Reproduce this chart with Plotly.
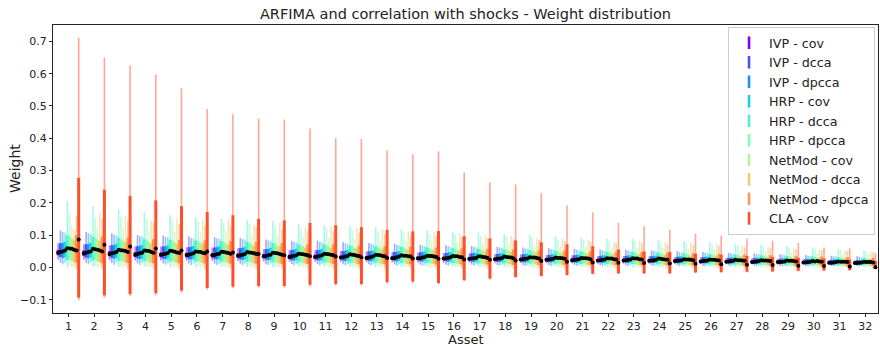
import numpy as np
import plotly.graph_objects as go

assets = list(range(1, 33))
methods = ["IVP - cov", "IVP - dcca", "IVP - dpcca", "HRP - cov", "HRP - dcca",
           "HRP - dpcca", "NetMod - cov", "NetMod - dcca", "NetMod - dpcca", "CLA - cov"]
colors = [(128, 0, 255), (77, 79, 252), (26, 150, 242), (26, 206, 227), (77, 243, 206),
          (128, 255, 180), (179, 243, 150), (230, 206, 116), (255, 150, 79), (255, 79, 40)]

# ---- IVP - cov
ivp_cov_low = [.025,.024,.023,.022,.022,.021,.021,.020,.019,.018,.018,.017,.017,.016,.016,.015,.015,.014,.014,.013,.013,.012,.012,.012,.011,.011,.010,.010,.009,.009,.008,.008]
ivp_cov_q1 = [.038,.036,.035,.033,.032,.032,.031,.030,.029,.027,.027,.026,.025,.024,.023,.023,.022,.021,.020,.020,.019,.018,.018,.017,.017,.016,.015,.014,.014,.013,.012,.011]
ivp_cov_med = [.046,.044,.042,.040,.040,.039,.038,.037,.035,.033,.033,.031,.030,.029,.029,.028,.027,.026,.025,.024,.023,.022,.022,.021,.020,.019,.018,.017,.017,.016,.015,.014]
ivp_cov_q3 = [.055,.053,.051,.048,.047,.046,.045,.044,.042,.040,.040,.037,.036,.035,.034,.033,.032,.031,.030,.029,.028,.026,.026,.025,.024,.023,.022,.021,.020,.019,.018,.017]
ivp_cov_high = [.075,.072,.069,.066,.065,.063,.062,.060,.057,.054,.054,.051,.050,.048,.047,.045,.044,.042,.041,.039,.038,.036,.036,.035,.033,.032,.030,.029,.027,.026,.024,.023]

# ---- IVP - dcca
ivp_dcca_low = [.015,.014,.014,.013,.013,.013,.012,.012,.011,.011,.011,.010,.010,.010,.009,.009,.009,.008,.008,.008,.008,.007,.007,.007,.007,.006,.006,.006,.005,.005,.005,.005]
ivp_dcca_q1 = [.033,.031,.030,.029,.028,.027,.027,.026,.025,.023,.023,.022,.021,.021,.020,.020,.019,.018,.018,.017,.016,.016,.016,.015,.014,.014,.013,.012,.012,.011,.010,.010]
ivp_dcca_med = [.048,.046,.044,.042,.041,.040,.039,.038,.036,.034,.034,.032,.031,.030,.029,.029,.028,.027,.026,.025,.024,.023,.023,.022,.021,.020,.019,.018,.017,.016,.015,.014]
ivp_dcca_q3 = [.075,.072,.069,.066,.065,.063,.062,.060,.057,.054,.054,.051,.050,.048,.047,.045,.044,.042,.041,.039,.038,.036,.036,.035,.033,.032,.030,.029,.027,.026,.024,.023]
ivp_dcca_high = [.115,.110,.106,.101,.099,.097,.094,.092,.087,.083,.083,.078,.076,.074,.071,.069,.067,.064,.062,.060,.058,.055,.055,.053,.051,.048,.046,.044,.041,.039,.037,.035]

# ---- IVP - dpcca
ivp_dpcca_low = [.010,.010,.009,.009,.009,.008,.008,.008,.008,.007,.007,.007,.007,.006,.006,.006,.006,.006,.005,.005,.005,.005,.005,.005,.004,.004,.004,.004,.004,.003,.003,.003]
ivp_dpcca_q1 = [.030,.029,.028,.026,.026,.025,.025,.024,.023,.022,.022,.020,.020,.019,.019,.018,.017,.017,.016,.016,.015,.014,.014,.014,.013,.013,.012,.011,.011,.010,.010,.009]
ivp_dpcca_med = [.050,.048,.046,.044,.043,.042,.041,.040,.038,.036,.036,.034,.033,.032,.031,.030,.029,.028,.027,.026,.025,.024,.024,.023,.022,.021,.020,.019,.018,.017,.016,.015]
ivp_dpcca_q3 = [.076,.073,.070,.067,.066,.064,.063,.061,.058,.055,.055,.052,.051,.049,.048,.046,.045,.043,.042,.040,.039,.037,.037,.036,.034,.033,.031,.030,.028,.027,.025,.024]
ivp_dpcca_high = [.110,.106,.101,.097,.095,.092,.090,.088,.084,.079,.079,.075,.073,.070,.068,.066,.064,.062,.059,.057,.055,.053,.053,.051,.048,.046,.044,.042,.040,.037,.035,.033]

# ---- HRP - cov
hrp_cov_low = [.016,.015,.014,.014,.013,.013,.013,.012,.012,.011,.011,.010,.010,.010,.009,.009,.009,.009,.008,.008,.008,.007,.007,.007,.007,.006,.006,.006,.005,.005,.005,.005]
hrp_cov_q1 = [.032,.031,.030,.028,.028,.027,.026,.026,.024,.023,.023,.022,.021,.021,.020,.019,.019,.018,.017,.017,.016,.015,.015,.015,.014,.013,.013,.012,.012,.011,.010,.010]
hrp_cov_med = [.053,.050,.048,.046,.045,.044,.043,.042,.040,.038,.038,.036,.035,.034,.033,.032,.030,.029,.028,.027,.026,.025,.025,.024,.023,.022,.021,.020,.019,.018,.017,.016]
hrp_cov_q3 = [.080,.077,.074,.070,.069,.067,.066,.064,.061,.058,.058,.054,.053,.051,.050,.048,.046,.045,.043,.042,.040,.038,.038,.037,.035,.034,.032,.030,.029,.027,.026,.024]
hrp_cov_high = [.108,.104,.100,.096,.094,.091,.089,.087,.082,.078,.078,.074,.072,.069,.067,.065,.063,.061,.058,.056,.054,.052,.052,.050,.047,.045,.043,.041,.039,.036,.034,.032]

# ---- HRP - dcca
hrp_dcca_low = [.000,.002,.001,.003,.002,.001,.003,.002,.001,.002,.003,.002,.001,.002,.003,.002,.002,.001,.002,.003,.002,.002,.001,.002,.003,.002,.002,.001,.002,.002,.001,.002]
hrp_dcca_q1 = [.023,.022,.021,.020,.019,.019,.018,.018,.017,.016,.016,.015,.015,.014,.014,.014,.013,.013,.012,.012,.011,.011,.011,.010,.010,.009,.009,.009,.008,.008,.007,.007]
hrp_dcca_med = [.060,.058,.055,.053,.052,.050,.049,.048,.046,.043,.043,.041,.040,.038,.037,.036,.035,.034,.032,.031,.030,.029,.029,.028,.026,.025,.024,.023,.022,.020,.019,.018]
hrp_dcca_q3 = [.100,.096,.092,.088,.086,.084,.082,.080,.076,.072,.072,.068,.066,.064,.062,.060,.058,.056,.054,.052,.050,.048,.048,.046,.044,.042,.040,.038,.036,.034,.032,.030]
hrp_dcca_high = [.205,.190,.180,.172,.162,.155,.152,.148,.145,.135,.132,.128,.125,.118,.115,.110,.108,.104,.100,.097,.092,.090,.088,.085,.082,.078,.075,.070,.067,.063,.058,.052]

# ---- HRP - dpcca
hrp_dpcca_low = [.005,.005,.005,.004,.004,.004,.004,.004,.004,.004,.004,.003,.003,.003,.003,.003,.003,.003,.003,.003,.003,.002,.002,.002,.002,.002,.002,.002,.002,.002,.002,.002]
hrp_dpcca_q1 = [.025,.024,.023,.022,.022,.021,.021,.020,.019,.018,.018,.017,.017,.016,.016,.015,.015,.014,.014,.013,.013,.012,.012,.012,.011,.011,.010,.010,.009,.009,.008,.008]
hrp_dpcca_med = [.059,.057,.054,.052,.051,.049,.048,.047,.045,.042,.042,.040,.039,.037,.036,.035,.034,.033,.031,.030,.029,.028,.028,.027,.025,.024,.023,.022,.021,.019,.018,.017]
hrp_dpcca_q3 = [.095,.091,.087,.084,.082,.080,.078,.076,.072,.068,.068,.065,.063,.061,.059,.057,.055,.053,.051,.049,.048,.046,.046,.044,.042,.040,.038,.036,.034,.032,.030,.029]
hrp_dpcca_high = [.170,.155,.158,.150,.146,.143,.139,.136,.129,.122,.122,.116,.112,.109,.105,.102,.099,.095,.092,.088,.085,.082,.082,.078,.075,.071,.068,.065,.061,.058,.054,.051]

# ---- NetMod - cov
netmod_cov_low = [.000,-.001,.000,.001,.000,.000,.001,.000,.001,.000,.001,.000,.000,.001,.000,.001,.000,.000,.001,.000,.000,.001,.000,.000,.001,.000,.000,.001,.000,.000,.001,.000]
netmod_cov_q1 = [.020,.019,.018,.018,.017,.017,.016,.016,.015,.014,.014,.014,.013,.013,.012,.012,.012,.011,.011,.010,.010,.010,.010,.009,.009,.008,.008,.008,.007,.007,.006,.006]
netmod_cov_med = [.058,.055,.053,.051,.049,.048,.047,.046,.044,.041,.041,.039,.038,.037,.036,.035,.033,.032,.031,.030,.029,.028,.028,.026,.025,.024,.023,.022,.021,.020,.018,.017]
netmod_cov_q3 = [.090,.086,.083,.079,.077,.076,.074,.072,.068,.065,.065,.061,.059,.058,.056,.054,.052,.050,.049,.047,.045,.043,.043,.041,.040,.038,.036,.034,.032,.031,.029,.027]
netmod_cov_high = [.130,.125,.120,.114,.112,.109,.107,.104,.099,.094,.094,.088,.086,.083,.081,.078,.075,.073,.070,.068,.065,.062,.062,.060,.057,.055,.052,.049,.047,.044,.042,.039]

# ---- NetMod - dcca
netmod_dcca_low = [.003,.002,.002,.002,.002,.002,.002,.002,.002,.002,.002,.002,.002,.002,.002,.002,.001,.001,.001,.001,.001,.001,.001,.001,.001,.001,.001,.001,.001,.001,.001,.001]
netmod_dcca_q1 = [.018,.017,.016,.015,.015,.015,.014,.014,.013,.013,.013,.012,.012,.011,.011,.011,.010,.010,.009,.009,.009,.008,.008,.008,.008,.007,.007,.007,.006,.006,.006,.005]
netmod_dcca_med = [.055,.053,.051,.048,.047,.046,.045,.044,.042,.040,.040,.037,.036,.035,.034,.033,.032,.031,.030,.029,.028,.026,.026,.025,.024,.023,.022,.021,.020,.019,.018,.017]
netmod_dcca_q3 = [.085,.082,.078,.075,.073,.071,.070,.068,.065,.061,.061,.058,.056,.054,.053,.051,.049,.048,.046,.044,.043,.041,.041,.039,.037,.036,.034,.032,.031,.029,.027,.026]
netmod_dcca_high = [.118,.170,.160,.145,.155,.150,.148,.132,.140,.125,.130,.122,.118,.112,.110,.105,.100,.098,.092,.090,.085,.080,.082,.078,.075,.072,.068,.063,.060,.056,.053,.050]

# ---- NetMod - dpcca
netmod_dpcca_low = [-.005,-.005,-.005,-.004,-.004,-.004,-.004,-.004,-.004,-.004,-.004,-.003,-.003,-.003,-.003,-.003,-.003,-.003,-.003,-.003,-.003,-.002,-.002,-.002,-.002,-.002,-.002,-.002,-.002,-.002,-.002,-.002]
netmod_dpcca_q1 = [.015,.014,.014,.013,.013,.013,.012,.012,.011,.011,.011,.010,.010,.010,.009,.009,.009,.008,.008,.008,.008,.007,.007,.007,.007,.006,.006,.006,.005,.005,.005,.005]
netmod_dpcca_med = [.053,.050,.048,.046,.045,.044,.043,.042,.040,.038,.038,.036,.035,.034,.033,.032,.030,.029,.028,.027,.026,.025,.025,.024,.023,.022,.021,.020,.019,.018,.017,.016]
netmod_dpcca_q3 = [.100,.096,.092,.088,.086,.084,.082,.080,.076,.072,.072,.068,.066,.064,.062,.060,.058,.056,.054,.052,.050,.048,.048,.046,.044,.042,.040,.038,.036,.034,.032,.030]
netmod_dpcca_high = [.160,.150,.145,.140,.135,.130,.128,.125,.120,.115,.112,.108,.105,.100,.098,.095,.092,.088,.085,.082,.080,.076,.075,.072,.070,.067,.063,.060,.057,.054,.051,.048]

# ---- CLA - cov
cla_cov_low = [-.101,-.093,-.089,-.086,-.077,-.068,-.064,-.062,-.062,-.058,-.055,-.055,-.049,-.047,-.052,-.042,-.037,-.032,-.028,-.025,-.021,-.020,-.020,-.020,-.017,-.016,-.015,-.014,-.012,-.011,-.010,-.005]
cla_cov_q1 = [-.093,-.086,-.082,-.079,-.071,-.063,-.059,-.057,-.057,-.053,-.051,-.051,-.045,-.043,-.048,-.039,-.034,-.029,-.026,-.023,-.019,-.018,-.018,-.018,-.015,-.014,-.013,-.012,-.010,-.009,-.008,-.004]
cla_cov_med = [.087,.071,.065,.059,.053,.050,.047,.042,.038,.035,.034,.032,.030,.028,.027,.025,.024,.022,.020,.018,.016,.015,.014,.013,.012,.010,.009,.008,.006,.005,.003,.001]
cla_cov_q3 = [.278,.241,.222,.208,.190,.172,.162,.151,.146,.138,.131,.125,.117,.112,.113,.097,.090,.084,.078,.072,.066,.056,.050,.048,.043,.040,.036,.033,.030,.028,.025,.020]
cla_cov_high = [.711,.649,.625,.597,.555,.491,.474,.461,.458,.430,.400,.398,.362,.350,.360,.294,.263,.257,.230,.193,.171,.138,.128,.117,.104,.099,.089,.083,.076,.062,.059,.044]

stats = [
    (ivp_cov_low, ivp_cov_q1, ivp_cov_med, ivp_cov_q3, ivp_cov_high),
    (ivp_dcca_low, ivp_dcca_q1, ivp_dcca_med, ivp_dcca_q3, ivp_dcca_high),
    (ivp_dpcca_low, ivp_dpcca_q1, ivp_dpcca_med, ivp_dpcca_q3, ivp_dpcca_high),
    (hrp_cov_low, hrp_cov_q1, hrp_cov_med, hrp_cov_q3, hrp_cov_high),
    (hrp_dcca_low, hrp_dcca_q1, hrp_dcca_med, hrp_dcca_q3, hrp_dcca_high),
    (hrp_dpcca_low, hrp_dpcca_q1, hrp_dpcca_med, hrp_dpcca_q3, hrp_dpcca_high),
    (netmod_cov_low, netmod_cov_q1, netmod_cov_med, netmod_cov_q3, netmod_cov_high),
    (netmod_dcca_low, netmod_dcca_q1, netmod_dcca_med, netmod_dcca_q3, netmod_dcca_high),
    (netmod_dpcca_low, netmod_dpcca_q1, netmod_dpcca_med, netmod_dpcca_q3, netmod_dpcca_high),
    (cla_cov_low, cla_cov_q1, cla_cov_med, cla_cov_q3, cla_cov_high),
]

offsets = np.linspace(-0.4, 0.4, len(methods))


def segs(xs, y0, y1):
    X, Y = [], []
    for x, a, b in zip(xs, y0, y1):
        X += [x, x, None]
        Y += [a, b, None]
    return X, Y


fig = go.Figure()
dot_x, dot_y = [], []
for j, (name, c) in enumerate(zip(methods, colors)):
    lo, q1, med, q3, hi = stats[j]
    xs = [a + offsets[j] for a in assets]
    rgb = "rgb(%d,%d,%d)" % c
    rgba = "rgba(%d,%d,%d,0.5)" % c
    X, Y = segs(xs, lo, hi)
    fig.add_trace(go.Scatter(x=X, y=Y, mode="lines", line=dict(color=rgba, width=1.6),
                             showlegend=False, hoverinfo="skip"))
    X, Y = segs(xs, q1, q3)
    fig.add_trace(go.Scatter(x=X, y=Y, mode="lines", line=dict(color=rgb, width=3),
                             showlegend=False, hoverinfo="skip"))
    fig.add_trace(go.Scatter(x=[None], y=[None], mode="markers", name=name,
                             marker=dict(symbol="line-ns", size=9, color=rgb,
                                         line=dict(width=2.6, color=rgb))))
    dot_x += xs
    dot_y += med

fig.add_trace(go.Scatter(x=dot_x, y=dot_y, mode="markers",
                         marker=dict(color="black", size=4), showlegend=False))

axis_common = dict(showline=True, linecolor="#222", linewidth=1, mirror=True,
                   ticks="outside", ticklen=3, tickcolor="#222", showgrid=False,
                   zeroline=False, tickfont=dict(size=11, color="#222"))

fig.update_layout(
    width=880, height=347,
    margin=dict(l=53, r=2, t=25, b=34),
    paper_bgcolor="white", plot_bgcolor="white",
    font=dict(family="DejaVu Sans", color="#222"),
    title=dict(text="ARFIMA and correlation with shocks - Weight distribution",
               x=0.5, xref="paper", y=1 - 14 / 347, yref="container",
               yanchor="middle", font=dict(size=14.5, color="#222")),
    xaxis=dict(range=[0.4, 32.5], tickmode="array", tickvals=assets,
               ticktext=[str(a) for a in assets], **axis_common),
    yaxis=dict(range=[-0.1405, 0.7505], tickmode="array",
               tickvals=[-0.1, 0, 0.1, 0.2, 0.3, 0.4, 0.5, 0.6, 0.7],
               ticktext=["\u22120.1", "0.0", "0.1", "0.2", "0.3", "0.4", "0.5", "0.6", "0.7"],
               **axis_common),
    legend=dict(x=0.9964, xanchor="right", y=(313 - 27) / 288, yanchor="top",
                bgcolor="rgba(255,255,255,0.85)", bordercolor="#cccccc", borderwidth=1,
                font=dict(size=12.7, color="#222"), itemwidth=30, tracegroupgap=0),
    showlegend=True,
    annotations=[
        dict(text="Asset", xref="paper", yref="paper", x=0.5, y=(313 - 339.5) / 288,
             xanchor="center", yanchor="middle", showarrow=False, borderpad=0,
             font=dict(size=13, color="#222")),
        dict(text="Weight", xref="paper", yref="paper", x=(15 - 53) / 825, y=0.5,
             xanchor="center", yanchor="middle", textangle=-90, showarrow=False,
             borderpad=0, font=dict(size=14, color="#222")),
    ],
)

fig.write_html("out.html")
